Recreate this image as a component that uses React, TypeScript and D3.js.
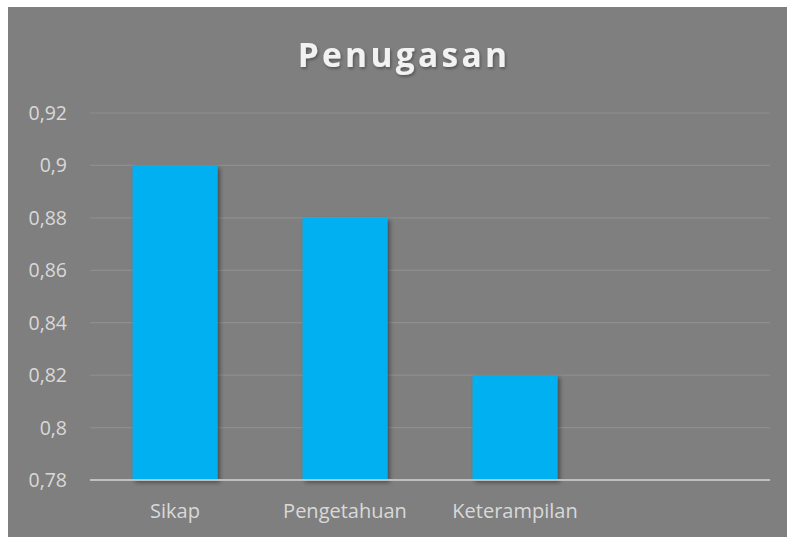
import React, { useRef, useEffect } from 'react';
import * as d3 from 'd3';

const categories = ['Sikap', 'Pengetahuan', 'Keterampilan', ''];
const values = [0.9, 0.88, 0.82];
const yTicks = [0.78, 0.8, 0.82, 0.84, 0.86, 0.88, 0.9, 0.92];
const title = 'Penugasan';

const App = () => {
    const chartRef = useRef<SVGSVGElement>(null);

    useEffect(() => {
        const width = 779;
        const height = 530;
        const margin = { top: 106, right: 17, bottom: 57, left: 82 };

        const svg = d3.select(chartRef.current)
            .attr('width', width)
            .attr('height', height);
        svg.selectAll('*').remove();

        const defs = svg.append('defs');
        defs.append('filter')
            .attr('id', 'barShadow')
            .attr('x', '-20%').attr('y', '-20%')
            .attr('width', '140%').attr('height', '140%')
            .append('feDropShadow')
            .attr('dx', 2.5).attr('dy', 2.5)
            .attr('stdDeviation', 2)
            .attr('flood-color', '#000')
            .attr('flood-opacity', 0.4);
        defs.append('filter')
            .attr('id', 'titleShadow')
            .append('feDropShadow')
            .attr('dx', 1.2).attr('dy', 1.8)
            .attr('stdDeviation', 1.6)
            .attr('flood-color', '#000')
            .attr('flood-opacity', 0.35);

        svg.append('rect')
            .attr('width', width)
            .attr('height', height)
            .attr('fill', '#7f7f7f');

        const x = d3.scaleBand()
            .domain(categories)
            .range([margin.left, width - margin.right])
            .paddingInner(0.5)
            .paddingOuter(0.25);

        const y = d3.scaleLinear()
            .domain([0.78, 0.92])
            .range([height - margin.bottom, margin.top]);

        const fmt = (v: number) => String(+v.toFixed(2)).replace('.', ',');

        // gridlines
        svg.append('g')
            .selectAll('line')
            .data(yTicks.slice(1))
            .enter().append('line')
            .attr('x1', margin.left)
            .attr('x2', width - margin.right)
            .attr('y1', d => y(d))
            .attr('y2', d => y(d))
            .attr('stroke', '#8e8e8e')
            .attr('stroke-width', 1.2);

        // y labels
        svg.append('g')
            .selectAll('text')
            .data(yTicks)
            .enter().append('text')
            .attr('x', margin.left - 23)
            .attr('y', d => y(d))
            .attr('dy', '0.36em')
            .attr('text-anchor', 'end')
            .attr('fill', '#d9d9d9')
            .style('font-family', '"Open Sans", sans-serif')
            .style('font-size', '19.5px')
            .text(d => fmt(d));

        // bars
        svg.append('g')
            .selectAll('rect')
            .data(values)
            .enter().append('rect')
            .attr('x', (d, i) => x(categories[i]) as number)
            .attr('width', x.bandwidth())
            .attr('y', d => y(d))
            .attr('height', d => y(0.78) - y(d))
            .attr('fill', '#00b0f0')
            .attr('filter', 'url(#barShadow)');

        // x axis line
        svg.append('line')
            .attr('x1', margin.left)
            .attr('x2', width - margin.right)
            .attr('y1', y(0.78))
            .attr('y2', y(0.78))
            .attr('stroke', '#bfbfbf')
            .attr('stroke-width', 2.2);

        // category labels
        svg.append('g')
            .selectAll('text')
            .data(categories)
            .enter().append('text')
            .attr('x', d => (x(d) as number) + x.bandwidth() / 2)
            .attr('y', height - 19)
            .attr('text-anchor', 'middle')
            .attr('fill', '#d9d9d9')
            .style('font-family', '"Open Sans", sans-serif')
            .style('font-size', '20px')
            .text(d => d);

        // title
        svg.append('text')
            .attr('x', 396)
            .attr('y', 60)
            .attr('text-anchor', 'middle')
            .attr('fill', '#f2f2f2')
            .attr('filter', 'url(#titleShadow)')
            .style('font-family', '"Open Sans", sans-serif')
            .style('font-weight', 'bold')
            .style('font-size', '33.5px')
            .style('letter-spacing', '3.3px')
            .text(title);
    }, []);

    return (
        <svg ref={chartRef} style={{ position: 'absolute', left: 8, top: 7, display: 'block' }}></svg>
    );
};

export default App;
